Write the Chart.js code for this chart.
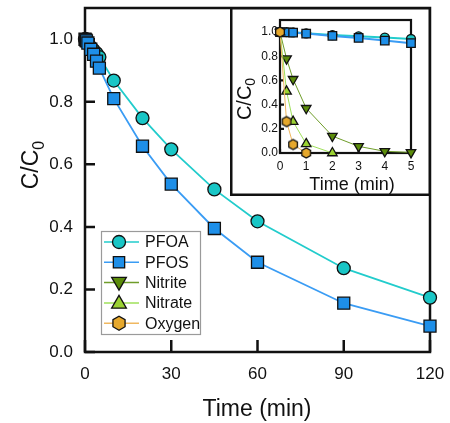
<!DOCTYPE html>
<html>
<head>
<meta charset="utf-8">
<script src="https://cdn.jsdelivr.net/npm/chart.js@4.4.1/dist/chart.umd.min.js"></script>
<style>
  html, body { margin: 0; padding: 0; background: #fff; }
  #wrap { position: relative; width: 450px; height: 423px; }
  #main { position: absolute; left: 0; top: 0; }
  #inset { position: absolute; left: 230px; top: 7px; }
</style>
</head>
<body>
<div id="wrap">
  <canvas id="main" width="450" height="423"></canvas>
  <canvas id="inset" width="201" height="189"></canvas>
</div>
<script>
// data
const timeMin = [0, 0.25, 0.5, 1, 2, 3, 4, 5, 10, 20, 30, 45, 60, 90, 120];
const pfoa = [1.0, 1.0, 0.998, 0.99, 0.975, 0.965, 0.955, 0.943, 0.868, 0.748, 0.648, 0.52, 0.418, 0.268, 0.174];
const pfos = [1.0, 0.998, 0.995, 0.988, 0.968, 0.952, 0.93, 0.908, 0.81, 0.658, 0.537, 0.395, 0.287, 0.156, 0.083];

const insetTime = [0, 0.25, 0.5, 1, 2, 3, 4, 5];
const nitrite = [1.0, 0.78, 0.61, 0.37, 0.14, 0.055, 0.014, 0.005];
const nitrate = [1.0, 0.51, 0.26, 0.075, 0.0];
const oxygen = [1.0, 0.26, 0.07, 0.0];

const mainXTicks = [0, 30, 60, 90, 120];
const insetXTicks = [0, 1, 2, 3, 4, 5];
const yTicks = [0, 0.2, 0.4, 0.6, 0.8, 1.0];
const legendNames = ['PFOA', 'PFOS', 'Nitrite', 'Nitrate', 'Oxygen'];

const FONT = '"Liberation Sans", Arial, sans-serif';

const look = {
  PFOA:    { fill: '#19c6c6', line: '#22cccc', shape: 'circle' },
  PFOS:    { fill: '#1e8fe8', line: '#3a9cf4', shape: 'rect' },
  Nitrite: { fill: '#5b8c0a', line: '#6f9d2a', shape: 'triangle', rot: 180 },
  Nitrate: { fill: '#9bd232', line: '#9fe05a', shape: 'triangle', rot: 0 },
  Oxygen:  { fill: '#e6a82c', line: '#f0b860', shape: 'hex' }
};

function hexImage(r) {
  const s = Math.ceil(r * 2 + 4);
  const c = document.createElement('canvas');
  c.width = s; c.height = s;
  const g = c.getContext('2d');
  g.beginPath();
  for (let i = 0; i < 6; i++) {
    const a = Math.PI / 2 + i * Math.PI / 3;
    const x = s / 2 + r * Math.cos(a), y = s / 2 + r * Math.sin(a);
    i ? g.lineTo(x, y) : g.moveTo(x, y);
  }
  g.closePath();
  g.fillStyle = look.Oxygen.fill;
  g.fill();
  g.lineWidth = 1.3;
  g.strokeStyle = '#111';
  g.stroke();
  return c;
}

function pts(xs, ys, maxX) {
  const out = [];
  ys.forEach((y, i) => { if (maxX === undefined || xs[i] <= maxX) out.push({ x: xs[i], y: y }); });
  return out;
}

function ds(name, data, r, lw, order) {
  const l = look[name];
  return {
    label: name,
    data: data,
    showLine: true,
    borderColor: l.line,
    borderWidth: lw,
    pointBackgroundColor: l.fill,
    pointBorderColor: '#111',
    pointBorderWidth: 1.3,
    pointStyle: l.shape === 'hex' ? hexImage(r) : l.shape,
    pointRotation: l.rot || 0,
    pointRadius: r,
    tension: 0,
    clip: false,
    order: order
  };
}

// rotated C/C0 with subscript
function drawCC(ctx, cx, cy, fs) {
  ctx.save();
  ctx.translate(cx, cy);
  ctx.rotate(-Math.PI / 2);
  ctx.fillStyle = '#111';
  ctx.textBaseline = 'middle';
  ctx.font = fs + 'px ' + FONT;
  const w1 = ctx.measureText('C/C').width;
  const sfs = Math.round(fs * 0.7);
  ctx.font = sfs + 'px ' + FONT;
  const w2 = ctx.measureText('0').width;
  const x0 = -(w1 + w2) / 2;
  ctx.font = fs + 'px ' + FONT;
  ctx.fillText('C/C', x0, 0);
  ctx.font = sfs + 'px ' + FONT;
  ctx.fillText('0', x0 + w1, fs * 0.32);
  ctx.restore();
}

function drawMarker(ctx, shape, rot, x, y, r, fill) {
  ctx.save();
  ctx.fillStyle = fill;
  ctx.strokeStyle = '#111';
  ctx.lineWidth = 1.3;
  ctx.beginPath();
  if (shape === 'circle') {
    ctx.arc(x, y, r, 0, Math.PI * 2);
  } else if (shape === 'rect') {
    const h = r * Math.SQRT1_2;
    ctx.rect(x - h, y - h, 2 * h, 2 * h);
  } else if (shape === 'triangle') {
    let a = (rot || 0) * Math.PI / 180;
    for (let i = 0; i < 3; i++) {
      const px = x + Math.sin(a) * r, py = y - Math.cos(a) * r;
      i ? ctx.lineTo(px, py) : ctx.moveTo(px, py);
      a += 2 * Math.PI / 3;
    }
  } else {
    for (let i = 0; i < 6; i++) {
      const a = Math.PI / 2 + i * Math.PI / 3;
      const px = x + r * Math.cos(a), py = y + r * Math.sin(a);
      i ? ctx.lineTo(px, py) : ctx.moveTo(px, py);
    }
  }
  ctx.closePath();
  ctx.fill();
  ctx.stroke();
  ctx.restore();
}

function frameAndTicks(chart, xLen, yLen, lw) {
  const ctx = chart.ctx, a = chart.chartArea;
  const sx = chart.scales.x, sy = chart.scales.y;
  ctx.save();
  ctx.strokeStyle = '#111';
  ctx.lineWidth = lw;
  ctx.lineCap = 'butt';
  ctx.beginPath();
  sx.ticks.forEach(t => {
    const p = sx.getPixelForValue(t.value);
    ctx.moveTo(p, a.bottom); ctx.lineTo(p, a.bottom - xLen);
  });
  sy.ticks.forEach(t => {
    const p = sy.getPixelForValue(t.value);
    ctx.moveTo(a.left, p); ctx.lineTo(a.left + yLen, p);
  });
  ctx.stroke();
  ctx.strokeRect(a.left, a.top, a.right - a.left, a.bottom - a.top);
  ctx.restore();
}

const mainDeco = {
  id: 'mainDeco',
  beforeDatasetsDraw(chart) {
    frameAndTicks(chart, 12, 10, 2.5);
  },
  afterDraw(chart) {
    const ctx = chart.ctx;
    ctx.save();
    ctx.fillStyle = '#111';
    ctx.font = '23px ' + FONT;
    ctx.textAlign = 'center';
    ctx.textBaseline = 'middle';
    ctx.fillText('Time (min)', 257, 410);
    ctx.restore();
    drawCC(ctx, 32, 165, 23);

    // legend
    const lx = 101, ly = 231, lw = 99, lh = 103;
    ctx.save();
    ctx.fillStyle = '#fff';
    ctx.fillRect(lx, ly, lw, lh);
    ctx.strokeStyle = '#9a9a9a';
    ctx.lineWidth = 1.2;
    ctx.strokeRect(lx + 0.5, ly + 0.5, lw, lh);
    const sizes = { circle: 6.5, rect: 8, triangle: 8.5, hex: 7 };
    legendNames.forEach((name, i) => {
      const l = look[name];
      const y = 242 + i * 20.3;
      ctx.strokeStyle = l.line;
      ctx.lineWidth = 1.5;
      ctx.beginPath();
      ctx.moveTo(104, y); ctx.lineTo(139, y);
      ctx.stroke();
      drawMarker(ctx, l.shape, l.rot, 119, y + (l.shape === 'triangle' ? (l.rot ? -1 : 1) : 0), sizes[l.shape], l.fill);
      ctx.fillStyle = '#111';
      ctx.font = '16px ' + FONT;
      ctx.textAlign = 'left';
      ctx.textBaseline = 'middle';
      ctx.fillText(name, 145, y + 1);
    });
    ctx.restore();
  }
};

const insetDeco = {
  id: 'insetDeco',
  beforeDraw(chart) {
    const ctx = chart.ctx;
    ctx.save();
    ctx.fillStyle = '#fff';
    ctx.fillRect(0, 0, chart.width, chart.height);
    ctx.strokeStyle = '#111';
    ctx.lineWidth = 2.5;
    ctx.strokeRect(1.25, 1.25, chart.width - 2.5, chart.height - 2.5);
    ctx.restore();
  },
  beforeDatasetsDraw(chart) {
    frameAndTicks(chart, 4, 4, 2.2);
  },
  afterDraw(chart) {
    const ctx = chart.ctx;
    ctx.save();
    ctx.fillStyle = '#111';
    ctx.font = '18px ' + FONT;
    ctx.textAlign = 'center';
    ctx.textBaseline = 'middle';
    ctx.fillText('Time (min)', 122, 178);
    ctx.restore();
    drawCC(ctx, 15, 92, 20);
  }
};

function tickFixer(list) {
  return scale => { scale.ticks = list.map(v => ({ value: v })); };
}

// fix the axis box size and drop the automatic edge padding
function fitTo(prop, size) {
  return s => {
    s[prop] = size;
    s.paddingTop = 0; s.paddingBottom = 0; s.paddingLeft = 0; s.paddingRight = 0;
  };
}

new Chart(document.getElementById('main').getContext('2d'), {
  type: 'scatter',
  data: {
    datasets: [
      ds('PFOS', pts(timeMin, pfos), 8.5, 1.8, 0),
      ds('PFOA', pts(timeMin, pfoa), 6.5, 1.8, 1)
    ]
  },
  options: {
    responsive: false,
    animation: false,
    events: [],
    layout: { padding: { top: 8, right: 20, left: 0, bottom: 0 }, autoPadding: false },
    plugins: { legend: { display: false }, tooltip: { enabled: false } },
    scales: {
      x: {
        type: 'linear', min: 0, max: 120,
        afterBuildTicks: tickFixer(mainXTicks),
        afterFit: fitTo('height', 71),
        grid: { display: false, drawTicks: false },
        border: { display: false },
        ticks: { color: '#111', padding: 12, font: { family: FONT, size: 17 } }
      },
      y: {
        type: 'linear', min: 0, max: 1.1,
        afterBuildTicks: tickFixer(yTicks),
        afterFit: fitTo('width', 85),
        grid: { display: false, drawTicks: false },
        border: { display: false },
        ticks: { color: '#111', padding: 12, font: { family: FONT, size: 17 }, callback: v => v.toFixed(1) }
      }
    }
  },
  plugins: [mainDeco]
});

new Chart(document.getElementById('inset').getContext('2d'), {
  type: 'scatter',
  data: {
    datasets: [
      ds('Oxygen', pts(insetTime, oxygen), 5, 1, 0),
      ds('Nitrate', pts(insetTime, nitrate), 5.5, 1, 1),
      ds('Nitrite', pts(insetTime, nitrite), 5.5, 1, 2),
      ds('PFOS', pts(timeMin, pfos, 5), 6, 2, 3),
      ds('PFOA', pts(timeMin, pfoa, 5), 4.5, 2, 4)
    ]
  },
  options: {
    responsive: false,
    animation: false,
    events: [],
    layout: { padding: { top: 13, right: 20, left: 0, bottom: 0 }, autoPadding: false },
    plugins: { legend: { display: false }, tooltip: { enabled: false } },
    scales: {
      x: {
        type: 'linear', min: 0, max: 5,
        afterBuildTicks: tickFixer(insetXTicks),
        afterFit: fitTo('height', 43),
        grid: { display: false, drawTicks: false },
        border: { display: false },
        ticks: { color: '#111', padding: 6, font: { family: FONT, size: 12 } }
      },
      y: {
        type: 'linear', min: 0, max: 1.1,
        afterBuildTicks: tickFixer(yTicks),
        afterFit: fitTo('width', 50),
        grid: { display: false, drawTicks: false },
        border: { display: false },
        ticks: { color: '#111', padding: 2, font: { family: FONT, size: 12 }, callback: v => v.toFixed(1) }
      }
    }
  },
  plugins: [insetDeco]
});
</script>
</body>
</html>
